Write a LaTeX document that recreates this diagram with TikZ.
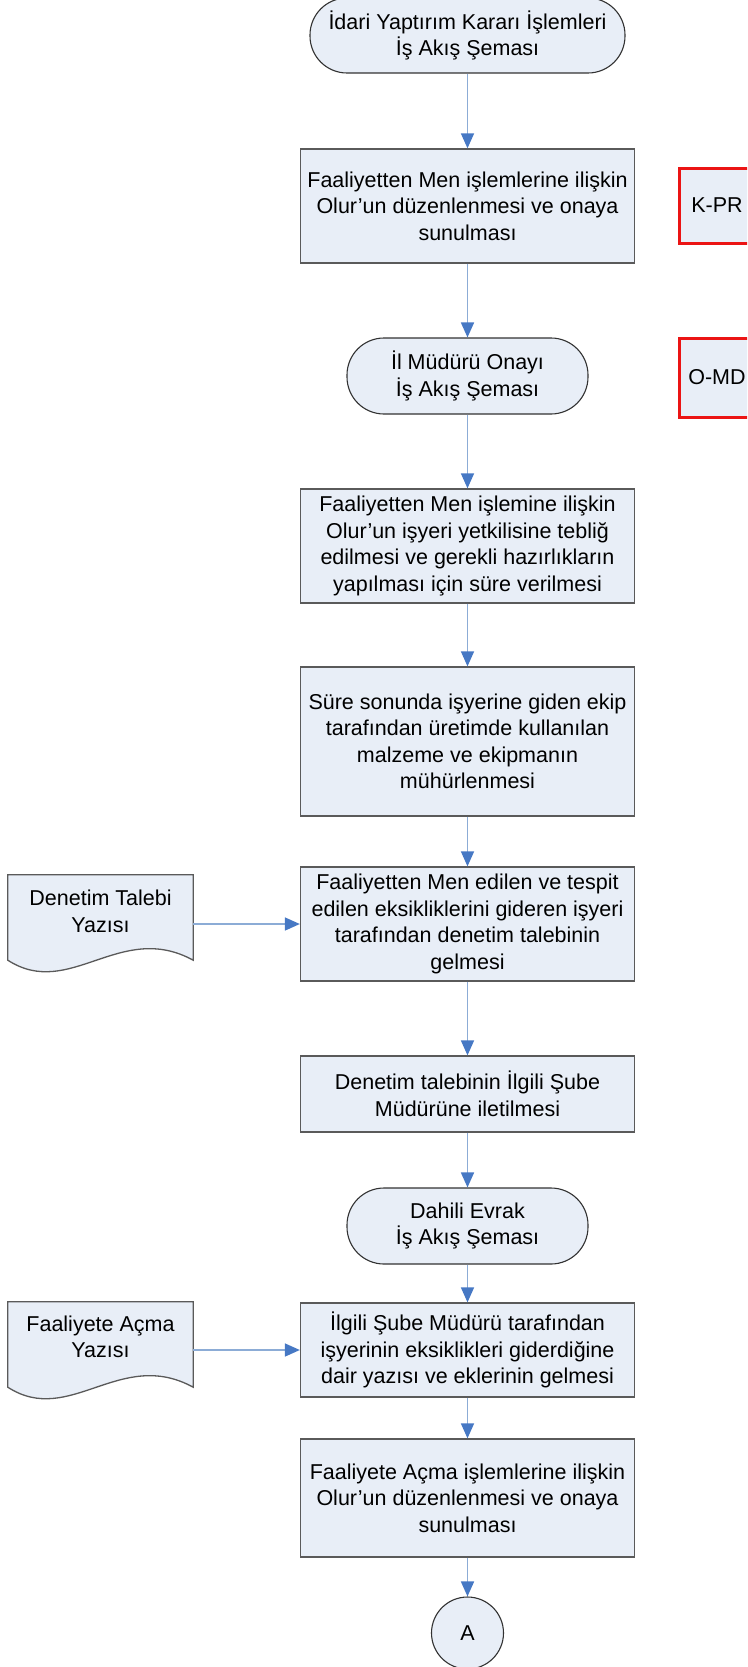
\documentclass[tikz,border=0pt]{standalone}
\usepackage{fontspec}
\setmainfont{Liberation Sans}
\usetikzlibrary{arrows.meta}
\definecolor{boxfill}{RGB}{232,238,247}
\definecolor{boxline}{RGB}{90,90,90}
\definecolor{termline}{RGB}{50,50,50}
\definecolor{lineblue}{RGB}{140,172,214}
\definecolor{arrowblue}{RGB}{70,120,196}
\definecolor{redline}{RGB}{235,20,20}
\tikzset{
  txt/.style={font=\fontsize{21.5}{26.5}\selectfont},
  base/.style={txt, fill=boxfill, align=center, inner sep=2pt},
  procbox/.style={base, draw=boxline, line width=1.3pt, rectangle, minimum width=334pt, minimum height=114pt},
  termbox/.style={base, draw=termline, line width=1.1pt, rectangle, rounded corners=37pt, minimum width=241pt, minimum height=76pt},
  codebox/.style={base, draw=redline, line width=3pt, rectangle, minimum width=76pt, minimum height=75pt},
  docnode/.style={txt, align=center, inner sep=0pt, minimum width=185pt, minimum height=85pt},
  docshape/.style={fill=boxfill, draw=boxline, line width=1.3pt},
  flow/.style={draw=lineblue, line width=1.6pt, -{Triangle[length=15pt,width=13pt,color=arrowblue]}},
  conn/.style={base, draw=termline, line width=1.1pt, circle, minimum size=72pt}
}
\begin{document}
\begin{tikzpicture}[x=1pt,y=-1pt]
\useasboundingbox (0,0) rectangle (747,1667);
\clip (0,0) rectangle (747,1667);

\node[termbox, minimum width=315pt, minimum height=75pt] (t1) at (467.5,35.5) {İdari Yaptırım Kararı İşlemleri\\İş Akış Şeması};
\node[procbox] (b1) at (467.5,206) {Faaliyetten Men işlemlerine ilişkin\\Olur’un düzenlenmesi ve onaya\\sunulması};
\node[termbox] (t2) at (467.5,376) {İl Müdürü Onayı\\İş Akış Şeması};
\node[procbox] (b2) at (467.5,546) {Faaliyetten Men işlemine ilişkin\\Olur’un işyeri yetkilisine tebliğ\\edilmesi ve gerekli hazırlıkların\\yapılması için süre verilmesi};
\node[procbox, minimum height=149pt] (b3) at (467.5,741.5) {Süre sonunda işyerine giden ekip\\tarafından üretimde kullanılan\\malzeme ve ekipmanın\\mühürlenmesi};
\node[procbox, minimum height=114pt] (b4) at (467.5,924) {Faaliyetten Men edilen ve tespit\\edilen eksikliklerini gideren işyeri\\tarafından denetim talebinin\\gelmesi};
\node[procbox, minimum height=76pt] (b5) at (467.5,1094) {Denetim talebinin İlgili Şube\\Müdürüne iletilmesi};
\node[termbox] (t3) at (467.5,1226) {Dahili Evrak\\İş Akış Şeması};
\node[procbox, minimum height=94pt] (b6) at (467.5,1350) {İlgili Şube Müdürü tarafından\\işyerinin eksiklikleri giderdiğine\\dair yazısı ve eklerinin gelmesi};
\node[procbox, minimum height=118pt] (b7) at (467.5,1498) {Faaliyete Açma işlemlerine ilişkin\\Olur’un düzenlenmesi ve onaya\\sunulması};
\node[conn] (A) at (467.5,1633) {A};

\node[codebox] (k1) at (717,205.5) {K-PR};
\node[codebox, minimum height=79pt] (k2) at (717,377.5) {O-MD};

% document shapes
\node[docnode] (d1) at (100.5,917.5) {};
\draw[docshape] (d1.south west) -- (d1.north west) -- (d1.north east) -- (d1.south east)
  .. controls +(-73,-40) and +(62,40) .. (d1.south west) -- cycle;
\node[txt, align=center] (d1t) at (100.5,911.5) {Denetim Talebi\\Yazısı};

\node[docnode] (d2) at (100.5,1344.5) {};
\draw[docshape] (d2.south west) -- (d2.north west) -- (d2.north east) -- (d2.south east)
  .. controls +(-73,-40) and +(62,40) .. (d2.south west) -- cycle;
\node[txt, align=center] (d2t) at (100.5,1337) {Faaliyete Açma\\Yazısı};

% connectors
\draw[flow] (t1) -- (b1);
\draw[flow] (b1) -- (t2);
\draw[flow] (t2) -- (b2);
\draw[flow] (b2) -- (b3);
\draw[flow] (b3) -- (b4);
\draw[flow] (b4) -- (b5);
\draw[flow] (b5) -- (t3);
\draw[flow] (t3) -- (b6);
\draw[flow] (b6) -- (b7);
\draw[flow] (b7) -- (A);
\draw[flow] (d1.east |- b4.west) -- (b4.west);
\draw[flow] (d2.east |- b6.west) -- (b6.west);
\end{tikzpicture}
\end{document}
